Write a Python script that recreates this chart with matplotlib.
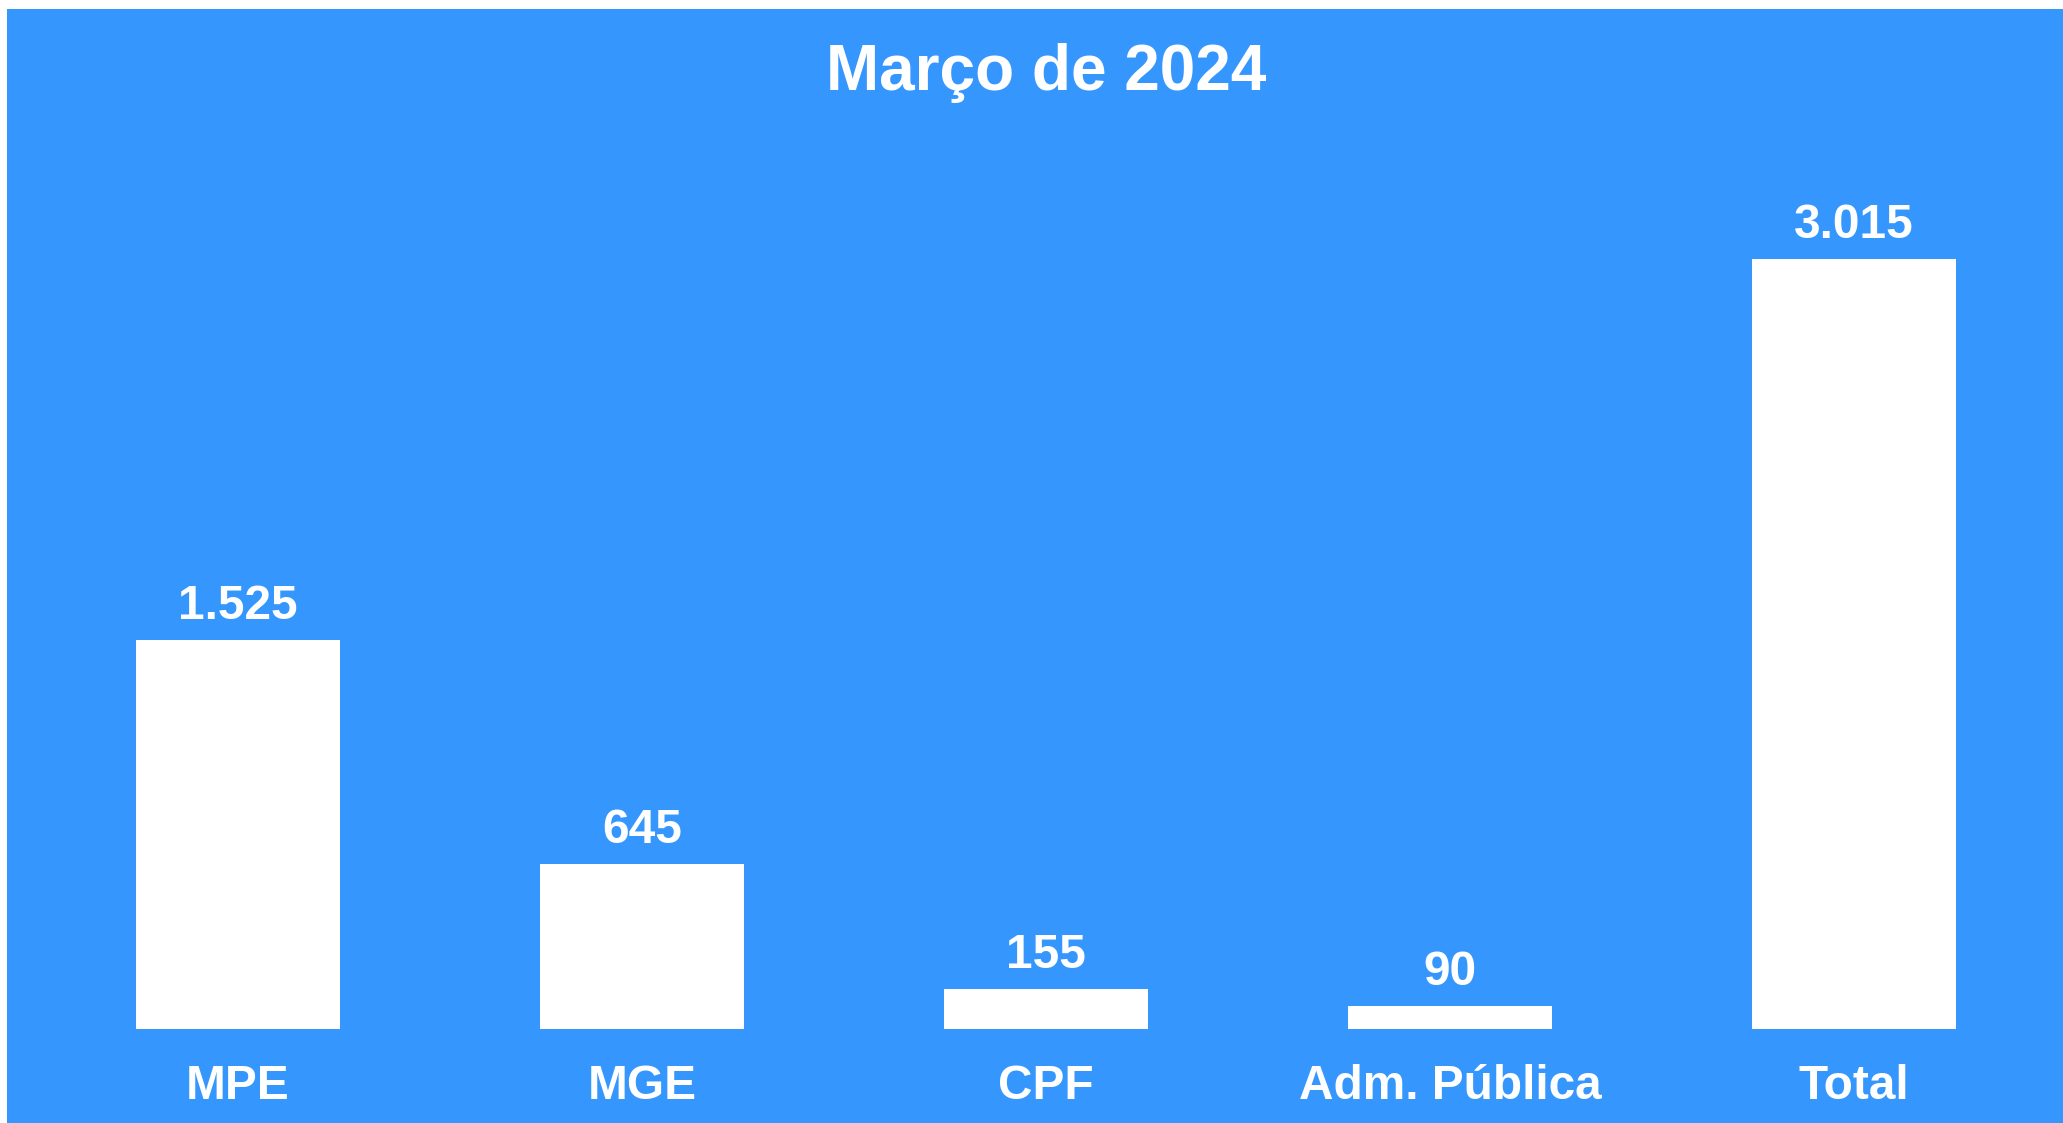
import matplotlib
matplotlib.use("Agg")
import matplotlib.pyplot as plt
from matplotlib.patches import Rectangle

categories = ["MPE", "MGE", "CPF", "Adm. Pública", "Total"]
values = [1525, 645, 155, 90, 3015]
value_labels = ["1.525", "645", "155", "90", "3.015"]
title = "Março de 2024"

W, H, DPI = 2063, 1123, 100
BLUE = "#3597FE"
plt.rcParams["font.family"] = ["Liberation Sans", "DejaVu Sans"]

fig = plt.figure(figsize=(W / DPI, H / DPI), dpi=DPI, facecolor="white")
bg = Rectangle((7 / W, 0), 1 - 7 / W, (H - 9) / H,
               transform=fig.transFigure, facecolor=BLUE,
               edgecolor="none", zorder=-10)
fig.patches.append(bg)

# axes: center of categories at x=1046 px, spacing 404 px; zero at y=1029 px
left_px = 1046 - 2.5 * 404
ax_bottom = (H - 1029) / H
ax_top_px = 150
ax = fig.add_axes([left_px / W, ax_bottom, 5 * 404 / W, (1029 - ax_top_px) / H])
ax.set_zorder(5)
ax.set_facecolor("none")
ymax = 3015 * (1029 - ax_top_px) / 770
x = list(range(len(categories)))
ax.bar(x, values, width=0.505, color="white", edgecolor="none")
ax.set_xlim(-0.5, len(categories) - 0.5)
ax.set_ylim(0, ymax)
ax.axis("off")

px = 72 / DPI  # points per pixel
for xi, v, lab in zip(x, values, value_labels):
    ax.annotate(lab, (xi, v), xytext=(0, 21 * px), textcoords="offset points",
                ha="center", va="baseline", color="white",
                fontsize=34.4, fontweight="bold")
for xi, cat in zip(x, categories):
    ax.annotate(cat, (xi, 0), xytext=(0, -70 * px), textcoords="offset points",
                ha="center", va="baseline", color="white",
                fontsize=34.4, fontweight="bold", annotation_clip=False)

fig.text(1046 / W, (H - 90) / H, title, ha="center", va="baseline",
         color="white", fontsize=46, fontweight="bold", zorder=6)

fig.savefig("out.png", dpi=DPI, facecolor="white")
